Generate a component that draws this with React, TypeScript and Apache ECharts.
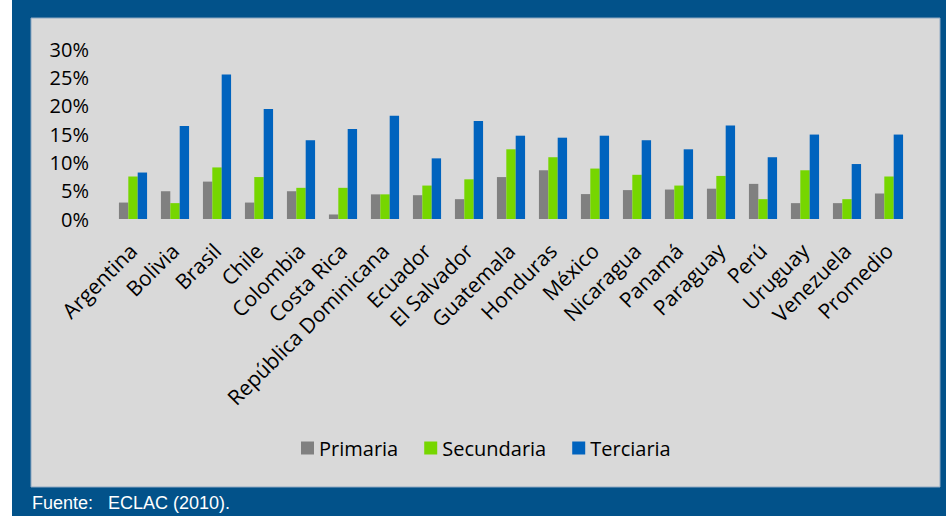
import React, { useEffect, useRef } from "react";
import * as echarts from "echarts";

const categories = [
  "Argentina", "Bolivia", "Brasil", "Chile", "Colombia", "Costa Rica",
  "República Dominicana", "Ecuador", "El Salvador", "Guatemala", "Honduras",
  "México", "Nicaragua", "Panamá", "Paraguay", "Perú", "Uruguay", "Venezuela", "Promedio",
];
const primaria = [2.9, 4.9, 6.6, 2.9, 4.9, 0.8, 4.35, 4.2, 3.5, 7.4, 8.6, 4.4, 5.1, 5.2, 5.35, 6.2, 2.8, 2.8, 4.5];
const secundaria = [7.5, 2.8, 9.1, 7.4, 5.5, 5.5, 4.35, 5.9, 7.0, 12.3, 10.9, 8.9, 7.8, 5.9, 7.6, 3.5, 8.6, 3.5, 7.5];
const terciaria = [8.2, 16.4, 25.5, 19.4, 13.9, 15.9, 18.2, 10.7, 17.3, 14.7, 14.35, 14.7, 13.9, 12.3, 16.5, 10.9, 14.9, 9.7, 14.9];
const seriesNames = ["Primaria", "Secundaria", "Terciaria"];
const yTicks = { min: 0, max: 30, interval: 5 };
const footer = "Fuente:\u00a0\u00a0\u00a0ECLAC (2010).";

const FONT = "'Open Sans', sans-serif";

export default function App() {
  const ref = useRef<HTMLDivElement>(null);
  useEffect(() => {
    document.body.style.margin = "0";
    const chart = echarts.init(ref.current!, null, { renderer: "svg" });
    const colors = ["#808080", "#76d600", "#0063be"];
    const data = [primaria, secundaria, terciaria];
    chart.setOption({
      animation: false,
      backgroundColor: "#ffffff",
      graphic: [
        { type: "rect", z: -10, shape: { x: 12, y: 0, width: 934, height: 516 }, style: { fill: "#02528a" } },
        { type: "rect", z: -9, shape: { x: 31, y: 18, width: 909, height: 469 }, style: { fill: "#d9d9d9", stroke: "#8ea8c2", lineWidth: 1 } },
        {
          type: "text", left: 32, top: 494,
          style: { text: footer, fill: "#ffffff", font: "18px 'Liberation Sans', Arial, sans-serif" },
        },
      ],
      grid: { left: 112, right: 36, top: 49, bottom: 297, containLabel: false },
      legend: {
        left: 296, top: 433, itemWidth: 13, itemHeight: 13, itemGap: 26,
        icon: "rect",
        textStyle: { fontFamily: FONT, fontSize: 20, color: "#000" },
        data: seriesNames,
      },
      xAxis: {
        type: "category", data: categories,
        axisLine: { show: false }, axisTick: { show: false },
        axisLabel: { rotate: 45, interval: 0, fontFamily: FONT, fontSize: 21, color: "#000", margin: 28 },
      },
      yAxis: {
        type: "value", min: yTicks.min, max: yTicks.max, interval: yTicks.interval,
        splitLine: { show: false }, axisLine: { show: false }, axisTick: { show: false },
        axisLabel: { formatter: (v: number) => `${v}%`, fontFamily: FONT, fontSize: 20, color: "#000", margin: 23 },
      },
      series: seriesNames.map((n, i) => ({
        name: n, type: "bar", data: data[i], barGap: "0%", barCategoryGap: "33%",
        itemStyle: { color: colors[i] },
      })),
    });
    return () => chart.dispose();
  }, []);
  return <div ref={ref} style={{ position: "absolute", left: 0, top: 0, width: 946, height: 516 }} />;
}
